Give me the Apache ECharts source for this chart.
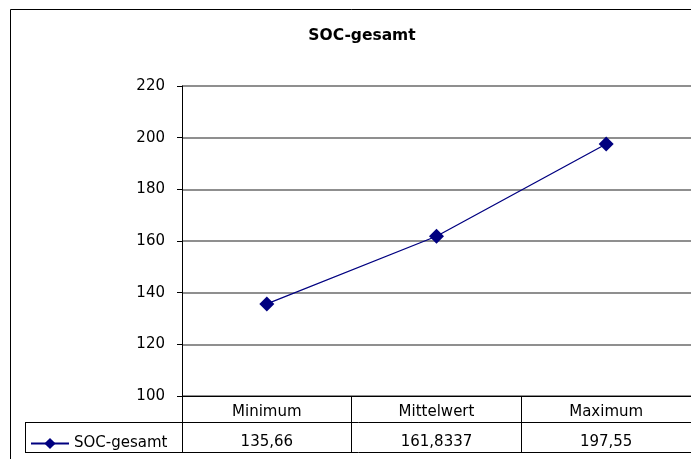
<!DOCTYPE html>
<html>
<head>
<meta charset="utf-8">
<script src="https://cdn.jsdelivr.net/npm/echarts@6/dist/echarts.min.js"></script>
<style>html,body{margin:0;padding:0;background:#fff}#c{width:691px;height:459px}</style>
</head>
<body>
<div id="c"></div>
<script>
const categories = ['Minimum', 'Mittelwert', 'Maximum'];
const seriesName = 'SOC-gesamt';
const values = [135.66, 161.8337, 197.55];
const yTicks = [100, 120, 140, 160, 180, 200, 220];

const FONT = 'DejaVu Sans';
const chart = echarts.init(document.getElementById('c'));
const gridLeft = 182, gridTop = 86, gridW = 510, gridH = 310;
const tableL = 25, row1 = gridTop + gridH + 26, row2 = gridTop + gridH + 56;

chart.setOption({
  animation: false,
  backgroundColor: '#fff',
  title: {
    text: seriesName,
    left: 357, top: 23, textAlign: 'center',
    textStyle: { fontFamily: FONT, fontSize: 15.5, fontWeight: 'bold', color: '#000' }
  },
  legend: {
    data: [seriesName],
    left: 25, top: 431,
    itemWidth: 38, itemHeight: 14,
    textStyle: { fontFamily: FONT, fontSize: 15, color: '#000' }
  },
  grid: { left: gridLeft, top: gridTop, width: gridW, height: gridH, containLabel: false },
  xAxis: [{
    type: 'category', data: categories, position: 'bottom', boundaryGap: true,
    axisLine: { show: true, lineStyle: { color: '#000', width: 1 } },
    axisTick: { show: true, interval: 0, length: 56, lineStyle: { color: '#000', width: 1 } },
    axisLabel: { margin: 9, interval: 0, fontFamily: FONT, fontSize: 15, color: '#000' },
    splitLine: { show: false }
  }, {
    type: 'category', data: categories, position: 'bottom', boundaryGap: true,
    axisLine: { show: false }, axisTick: { show: false },
    axisLabel: {
      margin: 39, interval: 0, fontFamily: FONT, fontSize: 15, color: '#000',
      formatter: (v, i) => String(values[i]).replace('.', ',')
    },
    splitLine: { show: false }
  }],
  yAxis: {
    type: 'value', min: yTicks[0], max: yTicks[yTicks.length - 1], interval: 20,
    axisLine: { show: true, lineStyle: { color: '#000', width: 1 } },
    axisTick: { show: true, length: 5, lineStyle: { color: '#000' } },
    axisLabel: { margin: 17, fontFamily: FONT, fontSize: 15, color: '#000' },
    splitLine: { show: true, lineStyle: { color: '#6a6a6a', width: 1.5 } }
  },
  series: [{
    name: seriesName, type: 'line', data: values, xAxisIndex: 0,
    symbol: 'diamond', symbolSize: 15,
    itemStyle: { color: '#000080' },
    lineStyle: { color: '#000080', width: 1.3 }
  }],
  graphic: [
    { type: 'rect', shape: { x: 10.5, y: 9.5, width: 700, height: 460 }, style: { fill: 'none', stroke: '#000', lineWidth: 1 }, silent: true, z: -1 },
    { type: 'line', shape: { x1: tableL, y1: row1 + 0.5, x2: gridLeft + gridW, y2: row1 + 0.5 }, style: { stroke: '#000', lineWidth: 1 } },
    { type: 'line', shape: { x1: tableL, y1: row2 + 0.5, x2: gridLeft + gridW, y2: row2 + 0.5 }, style: { stroke: '#000', lineWidth: 1 } },
    { type: 'line', shape: { x1: tableL + 0.5, y1: row1, x2: tableL + 0.5, y2: row2 + 1 }, style: { stroke: '#000', lineWidth: 1 } }
  ]
});
</script>
</body>
</html>
